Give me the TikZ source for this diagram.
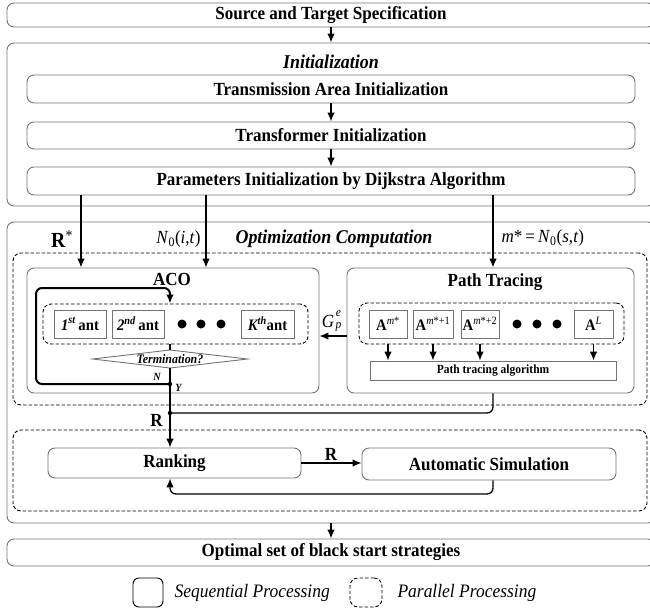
\documentclass[tikz,border=0pt]{standalone}
\usepackage{fontspec}
\setmainfont[FakeStretch=0.92]{Liberation Serif}
\usetikzlibrary{arrows.meta}

% font shortcuts
\newcommand\bigbf{\fontsize{18.5}{21}\selectfont\bfseries}
\newcommand\headfont{\fontsize{19.5}{22}\selectfont\bfseries\itshape}
\newcommand\antfont{\fontsize{16}{18}\selectfont\bfseries}
\newcommand\smallbf{\fontsize{12.5}{14}\selectfont\bfseries}
\newcommand\termfont{\fontsize{13}{14}\selectfont\bfseries\itshape}
\newcommand\ynfont{\fontsize{11}{12}\selectfont\bfseries\itshape}
\newcommand\mathlbl{\fontsize{18.5}{21}\selectfont}
\newcommand\supfont{\fontsize{12.5}{13}\selectfont\itshape}
\newcommand\legfont{\fontsize{19}{21}\selectfont\itshape}
\newcommand\rfont{\fontsize{21.5}{24}\selectfont}

\begin{document}
\begin{tikzpicture}[x=1pt,y=-1pt,
  seqbox/.style={draw=black!55, line width=0.9pt, rounded corners=7pt, inner sep=0pt},
  parbox/.style={draw=black, line width=0.9pt, dash pattern=on 3.5pt off 2pt, rounded corners=8pt, inner sep=0pt},
  cellbox/.style={draw=black!55, line width=0.9pt, inner sep=0pt},
  flow/.style={line width=1.3pt, -{Latex[length=9pt,width=7.5pt]}},
  plain/.style={line width=1.3pt},
  loopline/.style={line width=2pt},
  dotnode/.style={circle, fill, inner sep=0pt, minimum size=4.5pt},
  bigdot/.style={circle, fill, inner sep=0pt, minimum size=9pt},
]
\useasboundingbox (0,0) rectangle (650,608);
\clip (0,0) rectangle (650,608);

% ---------- initialization stage ----------
\node[seqbox, minimum width=648pt, minimum height=24pt, font=\bigbf] (src) at (331,15) {Source and Target Specification};
\node[seqbox, minimum width=648pt, minimum height=163pt] (init) at (331,124.5) {};
\node[font=\headfont] (inithead) at (331,62) {Initialization};
\node[seqbox, minimum width=608pt, minimum height=28pt, font=\bigbf] (tarea) at (331,89) {Transmission Area Initialization};
\node[seqbox, minimum width=608pt, minimum height=27pt, font=\bigbf] (tform) at (331,135.5) {Transformer Initialization};
\node[seqbox, minimum width=608pt, minimum height=28pt, font=\bigbf] (param) at (331,181) {Parameters Initialization by Dijkstra Algorithm};

% ---------- optimization stage ----------
\node[seqbox, minimum width=648pt, minimum height=301pt] (opt) at (331,372.5) {};
\node[font=\headfont] (opthead) at (334,239) {Optimization Computation};
\node[parbox, minimum width=634pt, minimum height=152pt] (par1) at (330,329) {};

% ACO block
\node[seqbox, minimum width=292pt, minimum height=125pt] (aco) at (173,330.5) {};
\node[font=\bigbf] (acohead) at (172,279) {ACO};
\node[parbox, minimum width=265pt, minimum height=40pt] (antset) at (175.5,324) {};
\node[cellbox, minimum width=52pt, minimum height=28pt, font=\antfont] (ant1) at (80,324) {{\itshape 1}\textsuperscript{\itshape st}\,ant};
\node[cellbox, minimum width=52pt, minimum height=28pt, font=\antfont] (ant2) at (138,324) {{\itshape 2}\textsuperscript{\itshape nd}\,ant};
\node[bigdot] (ad1) at (182,324) {};
\node[bigdot] (ad2) at (201,324) {};
\node[bigdot] (ad3) at (221,324) {};
\node[cellbox, minimum width=53pt, minimum height=28pt, font=\antfont] (antk) at (267.5,324) {{\itshape K}\textsuperscript{\itshape th}ant};

% termination test
\coordinate (dc) at (170,359);
\coordinate (dtop) at (170,350);
\coordinate (dbot) at (170,368);
\draw[draw=black!55, line width=0.9pt] (92.5,359) -- (dtop) -- (247.5,359) -- (dbot) -- cycle;
\node[font=\termfont] (term) at (dc) {Termination?};
\coordinate (jy) at (170,384);
\coordinate (jr) at (170,413);
\node[font=\ynfont] (nlbl) at (157,377) {N};
\node[font=\ynfont] (ylbl) at (178.5,387.5) {Y};

% Path tracing block
\node[seqbox, minimum width=287pt, minimum height=125pt] (path) at (490.5,330.5) {};
\node[font=\bigbf] (pathhead) at (495,282) {Path Tracing};
\node[parbox, minimum width=265pt, minimum height=41pt] (aset) at (491.5,323.5) {};
\node[cellbox, minimum width=38pt, minimum height=28pt, font=\antfont] (a1) at (388,324) {A\textsuperscript{\normalfont\itshape m\upshape*}};
\node[cellbox, minimum width=40pt, minimum height=28pt, font=\antfont] (a2) at (433,324) {A\textsuperscript{\normalfont\itshape m\upshape*+1}};
\node[cellbox, minimum width=38pt, minimum height=28pt, font=\antfont] (a3) at (480,324) {A\textsuperscript{\normalfont\itshape m\upshape*+2}};
\node[bigdot] (pd1) at (517,324) {};
\node[bigdot] (pd2) at (537,324) {};
\node[bigdot] (pd3) at (557,324) {};
\node[cellbox, minimum width=39pt, minimum height=28pt, font=\antfont] (al) at (593.5,324) {A\textsuperscript{\normalfont\itshape L}};
\node[cellbox, minimum width=246pt, minimum height=19pt, font=\smallbf] (algo) at (493,370.5) {Path tracing algorithm};

% labels on the incoming arrows
\node[font=\rfont] (rstar) at (62,239) {\textbf{R}\textsuperscript{*}};
\node[font=\mathlbl, anchor=east] (n0) at (204,239) {\textit{N}\textsubscript{0}(\textit{i},\textit{t})};
\node[font=\mathlbl, anchor=west] (mstar) at (498,238) {\textit{m}*\,=\,\textit{N}\textsubscript{0}(\textit{s},\textit{t})};

% label of the path-tracing feedback arrow: G with sup e and sub p
\node[font=\mathlbl\itshape, inner sep=0pt] (glbl) at (328,321) {G};
\node[font=\supfont, inner sep=0pt] (glblsup) at (338.5,313.5) {e};
\node[font=\supfont, inner sep=0pt] (glblsub) at (338.5,327) {p};

% ranking and simulation
\node[parbox, minimum width=634pt, minimum height=81pt] (par2) at (330,470.5) {};
\node[seqbox, minimum width=253pt, minimum height=30pt, font=\bigbf] (rank) at (174.5,463) {Ranking};
\node[seqbox, minimum width=254pt, minimum height=32pt, font=\bigbf] (auto) at (489,464) {Automatic Simulation};
\node[font=\bigbf] (rlbl) at (156.5,420.5) {R};
\node[font=\bigbf] (rlbl2) at (331,454) {R};

% result
\node[seqbox, minimum width=648pt, minimum height=27pt, font=\bigbf] (optimal) at (331,552.5) {Optimal set of black start strategies};

% legend
\node[draw=black, line width=0.9pt, rounded corners=6pt, minimum width=30pt, minimum height=29pt] (legseq) at (148,592.5) {};
\node[font=\legfont, anchor=west] (legseqtxt) at (171,593) {Sequential Processing};
\node[parbox, minimum width=32pt, minimum height=29pt] (legpar) at (366,592.5) {};
\node[font=\legfont, anchor=west] (legpartxt) at (394,593) {Parallel Processing};

% ---------- connectors ----------
\draw[flow] (src) -- (init);
\draw[flow] (tarea) -- (tform);
\draw[flow] (tform) -- (param);

\coordinate (xr) at (81,0);
\coordinate (xn) at (206,0);
\coordinate (xm) at (493,0);
\draw[flow] (param.south -| xr) -- (aco.north -| xr);
\draw[flow] (param.south -| xn) -- (aco.north -| xn);
\draw[flow] (param.south -| xm) -- (path.north -| xm);

\foreach \n in {a1,a2,a3,al}
  \draw[flow] (\n.south |- aset.south) -- (\n.south |- algo.north);

\coordinate (gy) at (0,336);
\draw[flow] (path.west |- gy) -- (aco.east |- gy);

\draw[plain] (antset.south -| dtop) -- (dtop);
\draw[loopline, -{Latex[length=9pt,width=7.5pt]}, rounded corners=6pt]
  (jy) -- (36,384) -- (36,288) -- (170,288) -- (antset.north -| jy);
\draw[flow] (dbot) -- (rank.north -| dbot);
\draw[plain, rounded corners=6pt] (path.south -| xm) -- (xm |- jr) -- (jr);
\node[dotnode] (jyd) at (jy) {};
\node[dotnode] (jrd) at (jr) {};

\draw[flow] (rank.east) -- (rank.east -| auto.west);
\coordinate (fb) at (0,494);
\draw[flow, rounded corners=6pt] (auto.south -| xm) -- (xm |- fb) -- (jr |- fb) -- (rank.south -| jr);

\draw[flow] (opt) -- (optimal);
\end{tikzpicture}
\end{document}
